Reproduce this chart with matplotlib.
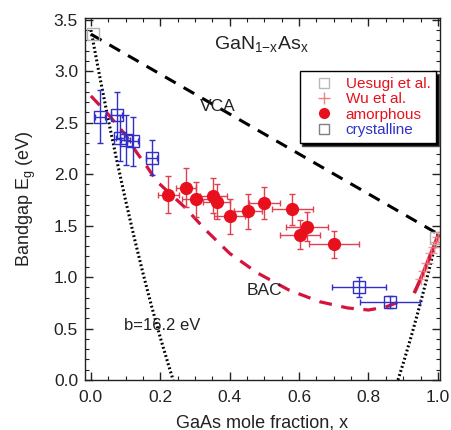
import matplotlib
matplotlib.use("Agg")
import matplotlib.pyplot as plt
from matplotlib.lines import Line2D
from matplotlib.ticker import MultipleLocator

plt.rcParams['font.family'] = ['Liberation Sans', 'DejaVu Sans']
plt.rcParams['mathtext.fontset'] = 'custom'
plt.rcParams['mathtext.rm'] = 'Liberation Sans'
plt.rcParams['mathtext.it'] = 'Liberation Sans'

# ---- data ----
# crystalline (blue open squares)
cry_x = [0.026, 0.074, 0.084, 0.100, 0.120, 0.175, 0.772, 0.862]
cry_y = [2.56, 2.57, 2.35, 2.33, 2.32, 2.16, 0.905, 0.76]
cry_xerr = [0.015, 0.015, 0.012, 0.012, 0.015, 0.015, 0.078, 0.086]
cry_yerr = [0.26, 0.23, 0.22, 0.24, 0.24, 0.17, 0.10, 0.06]

# amorphous (red filled circles)
amo_x = [0.223, 0.274, 0.303, 0.353, 0.362, 0.400, 0.452, 0.500, 0.581, 0.622, 0.602, 0.700]
amo_y = [1.80, 1.87, 1.755, 1.79, 1.73, 1.59, 1.64, 1.72, 1.66, 1.49, 1.41, 1.32]
amo_xerr = [0.030, 0.030, 0.040, 0.040, 0.040, 0.045, 0.040, 0.045, 0.058, 0.060, 0.058, 0.072]
amo_yerr = [0.18, 0.19, 0.17, 0.17, 0.17, 0.17, 0.17, 0.16, 0.15, 0.14, 0.14, 0.13]

# Uesugi et al. (light open squares)
ues_x = [0.005, 0.996]
ues_y = [3.36, 1.38]

# Wu et al. (red plus)
wu_x = [0.950, 0.960, 0.970, 0.980, 0.988, 0.994, 0.999]
wu_y = [0.98, 1.06, 1.14, 1.23, 1.29, 1.34, 1.39]

# VCA line
vca_x = [0.0, 1.0]
vca_y = [3.36, 1.42]

# BAC curve (dashed part)
bac_x = [0.0, 0.05, 0.10, 0.13, 0.16, 0.19, 0.27, 0.33, 0.40, 0.48, 0.57, 0.66, 0.74, 0.80, 0.85, 0.905]
bac_y = [2.76, 2.58, 2.38, 2.22, 2.08, 1.93, 1.68, 1.46, 1.23, 1.04, 0.875, 0.76, 0.70, 0.68, 0.71, 0.78]
# BAC curve (solid part near GaAs)
bacs_x = [0.934, 0.950, 0.965, 0.980, 0.990, 1.000]
bacs_y = [0.86, 0.98, 1.10, 1.23, 1.31, 1.40]

# bowing b=16.2 eV curve, two branches
bow1_x = [0.0, 0.025, 0.05, 0.075, 0.10, 0.125, 0.15, 0.175, 0.20, 0.225, 0.237]
bow1_y = [3.40, 2.956, 2.53, 2.128, 1.744, 1.381, 1.038, 0.715, 0.412, 0.130, 0.0]
bow2_x = [0.885, 0.90, 0.925, 0.95, 0.975, 1.0]
bow2_y = [0.0, 0.16, 0.445, 0.750, 1.075, 1.42]

RED = '#e8101c'
BAC_RED = '#d4143c'
BLUE = '#3030c8'
INK = '#222222'

fig = plt.figure(figsize=(4.51, 4.30), dpi=100)
ax = fig.add_axes([0.1885, 0.1163, 0.787, 0.842])

ax.plot(vca_x, vca_y, color='black', lw=2.2, ls=(0, (4, 3)))
ax.plot(bow1_x, bow1_y, color='black', lw=2.2, ls=(0, (0.6, 0.8)))
ax.plot(bow2_x, bow2_y, color='black', lw=2.2, ls=(0, (0.6, 0.8)))
ax.plot(bac_x, bac_y, color=BAC_RED, lw=2.3, ls=(0, (4, 3)))
ax.plot(bacs_x, bacs_y, color=BAC_RED, lw=2.6, ls='-')

ax.plot(wu_x, wu_y, ls='none', marker='+', ms=9, mew=1, color='#f08080', alpha=0.8)
ax.plot(ues_x, ues_y, ls='none', marker='s', ms=8, mfc='none', mec='#b0b0b0', mew=1)

ax.errorbar(cry_x, cry_y, xerr=cry_xerr, yerr=cry_yerr, fmt='s', ms=8, mfc='none',
            mec=BLUE, mew=1, ecolor=BLUE, elinewidth=1, capsize=2.5, capthick=1)
ax.errorbar(amo_x, amo_y, xerr=amo_xerr, yerr=amo_yerr, fmt='o', ms=8.5, mfc=RED,
            mec=RED, ecolor='#e04050', elinewidth=1, capsize=2.5, capthick=1)

ax.set_xlim(-0.017, 1.006)
ax.set_ylim(0.0, 3.518)
ax.xaxis.set_major_locator(MultipleLocator(0.2))
ax.xaxis.set_minor_locator(MultipleLocator(0.05))
ax.yaxis.set_major_locator(MultipleLocator(0.5))
ax.yaxis.set_minor_locator(MultipleLocator(0.1))
ax.tick_params(which='both', direction='in', top=True, right=True, labelsize=12.5, colors=INK, pad=5)
ax.tick_params(axis='x', which='major', pad=7)
ax.tick_params(which='major', length=6, width=1)
ax.tick_params(which='minor', length=3, width=0.8)
for s in ax.spines.values():
    s.set_linewidth(1.0)
    s.set_color(INK)

ax.set_xlabel('GaAs mole fraction, x', fontsize=13, color=INK, labelpad=7)
ax.set_ylabel('Bandgap E$_\\mathregular{g}$ (eV)', fontsize=13, color=INK, labelpad=11)

ax.text(0.49, 3.26, 'GaN$_\\mathregular{1{-}x}$As$_\\mathregular{x}$', fontsize=14, ha='center', va='center', color=INK)
ax.text(0.367, 2.66, 'VCA', fontsize=12.5, ha='center', va='center', color=INK)
ax.text(0.50, 0.87, 'BAC', fontsize=12.5, ha='center', va='center', color=INK)
ax.text(0.205, 0.53, 'b=16.2 eV', fontsize=12, ha='center', va='center', color=INK)

handles = [
    Line2D([], [], ls='none', marker='s', ms=7, mfc='none', mec='#b8b8b8'),
    Line2D([], [], ls='none', marker='+', ms=9, mew=1, color='#f08080'),
    Line2D([], [], ls='none', marker='o', ms=7, mfc=RED, mec=RED),
    Line2D([], [], ls='none', marker='s', ms=7, mfc='none', mec='#808080'),
]
labels = ['Uesugi et al.', 'Wu et al.', 'amorphous', 'crystalline']
leg = ax.legend(handles, labels, loc='upper right', bbox_to_anchor=(0.99, 0.853),
                borderaxespad=0, fontsize=11, frameon=True, fancybox=False,
                shadow={'facecolor': 'black', 'alpha': 1}, handletextpad=0.2,
                handlelength=2.4, labelspacing=0.08, borderpad=0.4, edgecolor='black')
leg.get_frame().set_linewidth(1.0)
for t, c in zip(leg.get_texts(), [RED, RED, RED, BLUE]):
    t.set_color(c)

fig.savefig('out.png', dpi=100)
